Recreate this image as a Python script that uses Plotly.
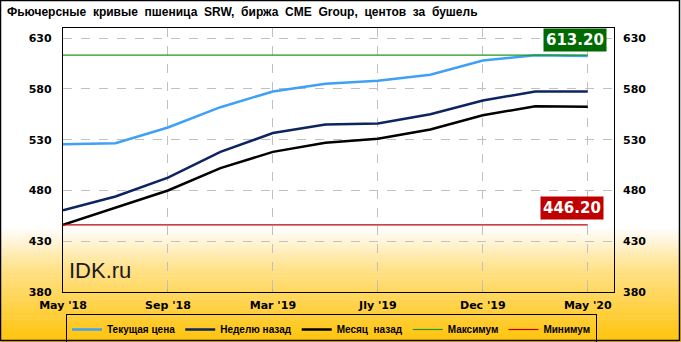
import plotly.graph_objects as go

months = ["May '18", "Jul '18", "Sep '18", "Dec '18", "Mar '19", "May '19",
          "Jly '19", "Sep '19", "Dec '19", "Mar '20", "May '20"]
current = [525.5, 526.5, 542, 562, 577.5, 585, 588, 594, 608, 613.2, 612.5]
week_ago = [460.5, 474, 492.7, 518, 536.5, 545, 546, 555, 568.6, 577.5, 577.5]
month_ago = [446.2, 462.8, 480, 502, 518, 527, 531, 540, 554, 563, 562.5]
max_val = 613.20
min_val = 446.20
shown_ticks = [0, 2, 4, 6, 8, 10]

names = ["Текущая цена", "Неделю назад", "Месяц  назад", "Максимум", "Минимум"]
colors = ["#3fa0f5", "#0c2460", "#000000", "#1a9a1a", "#c00000"]

W, H = 681, 342
L, R, T, B = 63, 614, 28, 292

def px(x):
    return (x - L) / (R - L)

def py(y):
    return (B - y) / (B - T)

xs = list(range(len(months)))
fig = go.Figure()
fig.add_trace(go.Scatter(x=xs, y=current, name=names[0], mode="lines",
                         line=dict(color=colors[0], width=2.5)))
fig.add_trace(go.Scatter(x=xs, y=week_ago, name=names[1], mode="lines",
                         line=dict(color=colors[1], width=2.5)))
fig.add_trace(go.Scatter(x=xs, y=month_ago, name=names[2], mode="lines",
                         line=dict(color=colors[2], width=2.5)))
fig.add_trace(go.Scatter(x=xs, y=[max_val] * len(xs), name=names[3], mode="lines",
                         line=dict(color=colors[3], width=1.2)))
fig.add_trace(go.Scatter(x=xs, y=[min_val] * len(xs), name=names[4], mode="lines",
                         line=dict(color=colors[4], width=1.2)))
fig.add_trace(go.Scatter(x=[0], y=[380], yaxis="y2", mode="markers",
                         marker=dict(opacity=0), showlegend=False, hoverinfo="skip"))

# background gradient (white -> orange-yellow) as stacked strips
shapes = []
g0, g1 = 228, 342
n = 40
c_top = (255, 255, 255)
c_mid = (255, 226, 140)
c_bot = (255, 196, 10)
for i in range(n):
    y0 = g0 + (g1 - g0) * i / n
    y1 = g0 + (g1 - g0) * (i + 1) / n
    t = (i + 0.5) / n
    if t < 0.35:
        u = t / 0.35
        c = [c_top[k] + (c_mid[k] - c_top[k]) * u for k in range(3)]
    else:
        u = (t - 0.35) / 0.65
        c = [c_mid[k] + (c_bot[k] - c_mid[k]) * u for k in range(3)]
    col = "rgb(%d,%d,%d)" % tuple(int(v) for v in c)
    shapes.append(dict(type="rect", xref="paper", yref="paper", layer="below",
                       x0=px(0), x1=px(W), y0=py(y1 + 0.5), y1=py(y0),
                       fillcolor=col, line=dict(width=0)))
# outer border
shapes.append(dict(type="rect", xref="paper", yref="paper", layer="above",
                   x0=px(0.5), x1=px(679.5), y0=py(340.5), y1=py(0.5),
                   line=dict(color="black", width=1.5), fillcolor="rgba(0,0,0,0)"))

tickfont = dict(family="DejaVu Sans", size=11, color="black", weight="bold")

fig.update_layout(
    width=W, height=H,
    margin=dict(l=L, r=W - R, t=T, b=H - B, autoexpand=False),
    paper_bgcolor="white",
    plot_bgcolor="rgba(0,0,0,0)",
    shapes=shapes,
    xaxis=dict(range=[0, 10.5], tickvals=shown_ticks,
               ticktext=[months[i] for i in shown_ticks],
               showgrid=True, gridcolor="#c0c0c0", griddash="dash", gridwidth=1,
               zeroline=False, showline=True, linecolor="black", linewidth=1.2,
               mirror=True, ticks="inside", ticklen=3, tickcolor="#b0b0b0",
               tickfont=tickfont, ticklabelstandoff=3, automargin=False),
    yaxis=dict(range=[380, 640], tick0=380, dtick=50,
               showgrid=True, gridcolor="#c0c0c0", griddash="dash", gridwidth=1,
               zeroline=False, showline=True, linecolor="black", linewidth=1.2,
               mirror=True, ticks="", tickfont=tickfont, ticklabelstandoff=8,
               automargin=False),
    yaxis2=dict(range=[380, 640], tick0=380, dtick=50, overlaying="y", side="right",
                showgrid=False, zeroline=False, showline=False, ticks="",
                tickfont=tickfont, ticklabelstandoff=8, automargin=False),
    legend=dict(orientation="h", x=px(66), y=py(314), xanchor="left", yanchor="top",
                bordercolor="black", borderwidth=1, bgcolor="rgba(0,0,0,0)",
                font=dict(family="Liberation Sans", size=10, color="black", weight="bold"),
                itemwidth=30, tracegroupgap=0),
    showlegend=True,
    annotations=[
        dict(text="Фьючерсные  кривые  пшеница  SRW,  биржа  CME  Group,  центов  за  бушель",
             xref="paper", yref="paper", x=px(5), y=py(12), xanchor="left", yanchor="middle",
             showarrow=False,
             font=dict(family="Liberation Sans", size=12, color="black", weight="bold")),
        dict(text="613.20", xref="paper", yref="paper", x=px(575), y=py(40),
             xanchor="center", yanchor="middle", showarrow=False,
             bgcolor="#006a00", borderpad=2,
             font=dict(family="DejaVu Sans", size=15, color="white", weight="bold")),
        dict(text="446.20", xref="paper", yref="paper", x=px(572), y=py(208),
             xanchor="center", yanchor="middle", showarrow=False,
             bgcolor="#c00000", borderpad=2,
             font=dict(family="DejaVu Sans", size=15, color="white", weight="bold")),
        dict(text="IDK.ru", xref="paper", yref="paper", x=px(67), y=py(270),
             xanchor="left", yanchor="middle", showarrow=False,
             font=dict(family="Liberation Sans", size=22, color="#1a1a1a")),
    ],
)

fig.write_html("out.html")
